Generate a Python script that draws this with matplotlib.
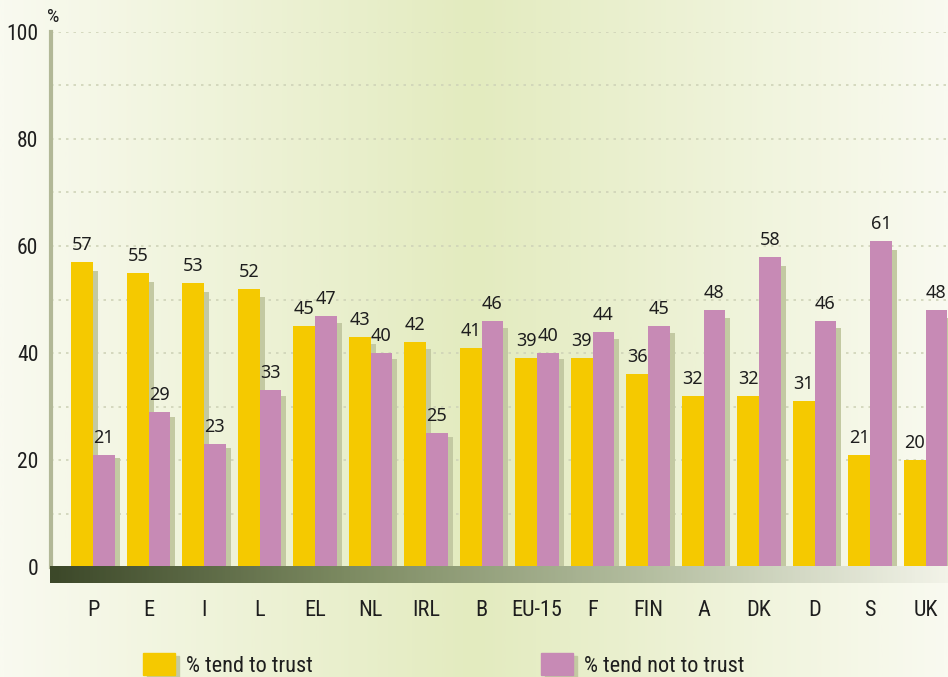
"""Trust bar chart: % tend to trust vs % tend not to trust, by country."""
import numpy as np
import matplotlib
matplotlib.use("Agg")
import matplotlib.pyplot as plt
from matplotlib.colors import LinearSegmentedColormap
from matplotlib.patches import Rectangle

## DATA
## ====
countries = ["P", "E", "I", "L", "EL", "NL", "IRL", "B", "EU-15", "F",
             "FIN", "A", "DK", "D", "S", "UK"]
trust = [57, 55, 53, 52, 45, 43, 42, 41, 39, 39, 36, 32, 32, 31, 21, 20]
not_trust = [21, 29, 23, 33, 47, 40, 25, 46, 40, 44, 45, 48, 58, 46, 61, 48]
y_ticks = [0, 20, 40, 60, 80, 100]
legend_labels = ["% tend to trust", "% tend not to trust"]

## STYLE
## =====
YELLOW = "#f5c900"
PINK = "#c78ab5"
SHADOW = "#c3c9a2"
TEXT = "#1e1e1e"
NARROW = ["DejaVu Sans Condensed", "Liberation Sans Narrow", "Roboto Condensed",
          "Open Sans Condensed", "Lato", "DejaVu Sans"]
REGULAR = ["Noto Sans", "DejaVu Sans"]
W, H = 948, 677

fig = plt.figure(figsize=(W / 100, H / 100), dpi=100)

# background gradient (light at the sides, green in the middle)
bg = fig.add_axes([0, 0, 1, 1], zorder=-10)
bg_cmap = LinearSegmentedColormap.from_list(
    "bg", [(0, "#f9faf0"), (0.5, "#e3ebbf"), (1, "#f9faf0")])
bg.imshow(np.linspace(0, 1, 400)[None, :], aspect="auto", cmap=bg_cmap,
          extent=[0, 1, 0, 1])
bg.set_axis_off()

# main axes
ax = fig.add_axes([51 / W, (H - 567) / H, (W - 51) / W, 535 / H])
ax.set_facecolor("none")
x = np.arange(len(countries))
bw = 0.39
sh_dx = 5 / 55.5

# shadows first, then bars
ax.bar(x - bw / 2 + sh_dx, np.array(trust) * 0.97, bw, color=SHADOW, zorder=2)
ax.bar(x + bw / 2 + sh_dx, np.array(not_trust) * 0.97, bw, color=SHADOW, zorder=2)
ax.bar(x - bw / 2, trust, bw, color=YELLOW, zorder=3)
ax.bar(x + bw / 2, not_trust, bw, color=PINK, zorder=4)

for xi, v in zip(x, trust):
    ax.text(xi - bw / 2, v + 1.5, str(v), ha="center", va="bottom",
            fontsize=13, color=TEXT, family=REGULAR, zorder=5)
for xi, v in zip(x, not_trust):
    ax.text(xi + bw / 2, v + 1.5, str(v), ha="center", va="bottom",
            fontsize=13, color=TEXT, family=REGULAR, zorder=5)

ax.set_xlim(-0.757, 15.405)
ax.set_ylim(0, 100)
ax.set_yticks(y_ticks)
ax.set_yticks(range(10, 100, 20), minor=True)
ax.grid(axis="y", which="both", color="#cfd3b8", linestyle=(0, (1.5, 3)),
        linewidth=1.2, zorder=0)
ax.set_yticklabels([str(t) for t in y_ticks], fontsize=15.5, color=TEXT,
                   family=NARROW)
ax.tick_params(axis="y", which="both", length=0, pad=9)
ax.set_xticks(x)
ax.set_xticklabels(countries, fontsize=16, color=TEXT, family=NARROW)
ax.tick_params(axis="x", length=0, pad=24)
for s in ["top", "right", "bottom"]:
    ax.spines[s].set_visible(False)
ax.spines["left"].set_color("#b2b897")
ax.spines["left"].set_linewidth(3)
ax.text(-0.004, 1.012, "%", transform=ax.transAxes, fontsize=14, color=TEXT,
        family=NARROW, va="bottom", ha="left")

# dark-to-light base band under the bars
band = fig.add_axes([50 / W, (H - 583) / H, (W - 50) / W, 17 / H])
band_cmap = LinearSegmentedColormap.from_list(
    "band", ["#3c4829", "#7d8b62", "#b4bea0", "#f2f3e8"])
band.imshow(np.linspace(0, 1, 400)[None, :], aspect="auto", cmap=band_cmap,
            extent=[0, 1, 0, 1])
band.set_axis_off()

# legend, drawn by hand to get the shadowed swatches
for lx, col, lab in [(143, YELLOW, legend_labels[0]), (541, PINK, legend_labels[1])]:
    fig.patches.append(Rectangle(((lx + 4) / W, 0 / H), 32 / W, 21 / H,
                                 transform=fig.transFigure, color=SHADOW, zorder=1))
    fig.patches.append(Rectangle((lx / W, 2 / H), 32 / W, 22 / H,
                                 transform=fig.transFigure, color=col, zorder=2))
    fig.text((lx + 43) / W, 11 / H, lab, fontsize=16, color=TEXT, family=NARROW,
             va="center", ha="left")

fig.savefig("out.png", dpi=100)
